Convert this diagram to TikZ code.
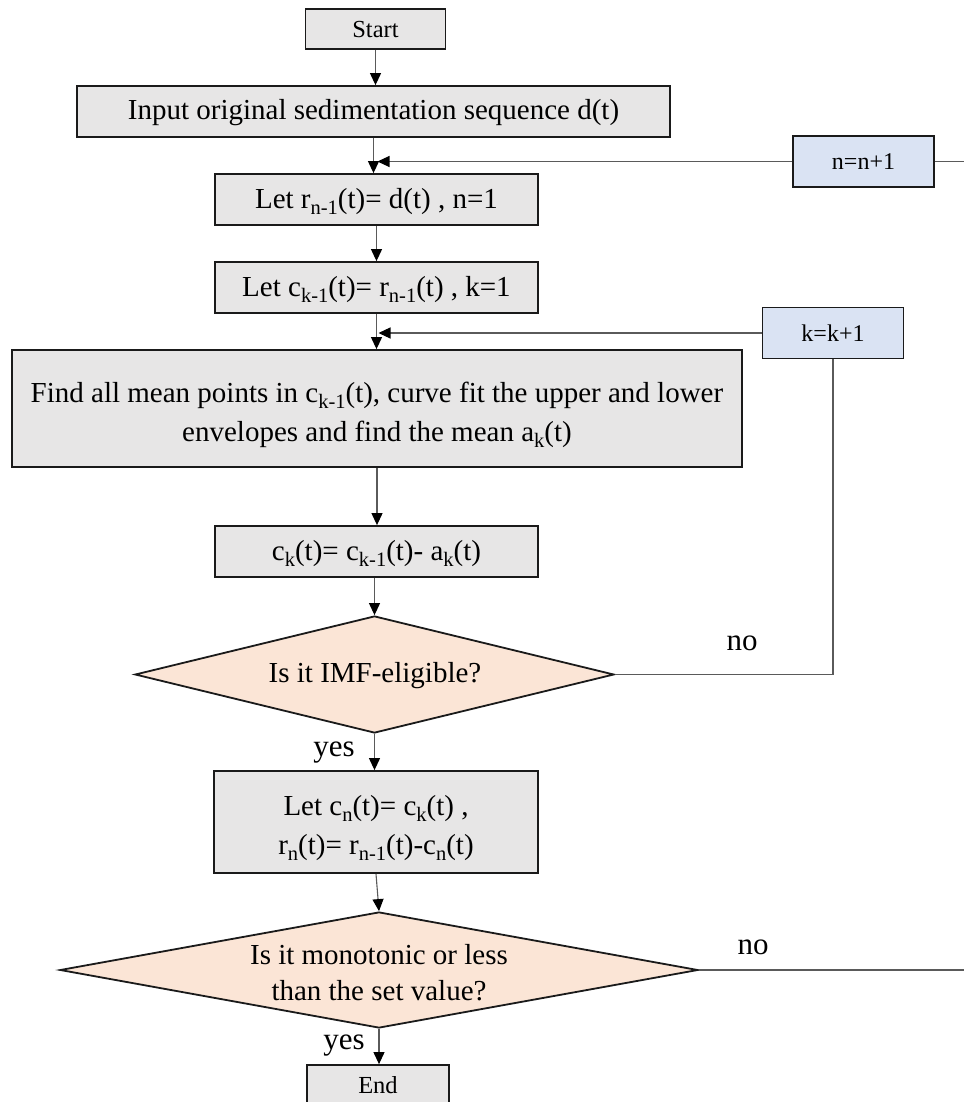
\documentclass[tikz,border=0pt]{standalone}
\usepackage{fontspec}
\setmainfont{Liberation Serif}
\usetikzlibrary{arrows.meta,shapes.geometric}
\definecolor{boxgray}{HTML}{E7E6E6}
\definecolor{boxblue}{HTML}{DAE3F3}
\definecolor{boxpeach}{HTML}{FBE5D6}
\definecolor{edge}{HTML}{1A1A1A}
\definecolor{wire}{HTML}{5A5A5A}
\newcommand{\mysub}[1]{\raisebox{-6pt}{\fontsize{20.5}{20.5}\selectfont #1}}
\begin{document}
\begin{tikzpicture}[x=1pt,y=-1pt,
  proc/.style={draw=edge, line width=1.8pt, fill=boxgray, inner sep=0pt,
    minimum width=323pt, minimum height=51pt, align=center,
    font=\fontsize{29}{39}\selectfont, text height=17pt, text depth=0pt},
  proctwo/.style={proc, text height=65pt, text depth=0pt},
  term/.style={draw=edge, line width=1.8pt, fill=boxgray, inner sep=0pt,
    minimum width=140pt, minimum height=40pt, text height=17pt, text depth=0pt,
    font=\fontsize{24.5}{28}\selectfont},
  incr/.style={draw=edge, line width=1.8pt, fill=boxblue, inner sep=0pt,
    minimum width=141pt, minimum height=51pt,
    font=\fontsize{24}{28}\selectfont},
  dec/.style={diamond, draw=edge, line width=1.8pt, fill=boxpeach, inner sep=0pt},
  dectext/.style={align=center, font=\fontsize{29}{36}\selectfont},
  lbl/.style={font=\fontsize{31}{31}\selectfont},
  conn/.style={draw=wire, line width=1.1pt},
  arr/.style={conn, -{Triangle[length=12pt,width=11pt,color=black]}}
]
\useasboundingbox (0,0) rectangle (964,1102);

\node[term] (start) at (375.5,29) {Start};
\node[proc, minimum width=593pt] (input) at (373.5,111.5) {Input original sedimentation sequence d(t)};
\node[incr] (nbox) at (863.5,161.5) {n=n+1};
\node[proc] (letr) at (376.5,199.5) {Let r\mysub{n-1}(t)= d(t) , n=1};
\node[proc] (letc) at (376.5,287.5) {Let c\mysub{k-1}(t)= r\mysub{n-1}(t) , k=1};
\node[incr] (kbox) at (833,333) {k=k+1};
\node[proctwo, minimum width=730pt, minimum height=117pt] (find) at (377,408.5)
  {Find all mean points in c\mysub{k-1}(t), curve fit the upper and lower\\envelopes and find the mean a\mysub{k}(t)};
\node[proc] (ck) at (376.5,551.5) {c\mysub{k}(t)= c\mysub{k-1}(t)- a\mysub{k}(t)};
\node[dec, minimum width=479pt, minimum height=117pt] (d1) at (374.5,674.5) {};
\node[dectext] (d1t) at (375,676) {Is it IMF-eligible?};
\node[proctwo, minimum width=324pt, minimum height=102pt] (cn) at (376,822)
  {Let c\mysub{n}(t)= c\mysub{k}(t) ,\\r\mysub{n}(t)= r\mysub{n-1}(t)-c\mysub{n}(t)};
\node[dec, minimum width=638pt, minimum height=116pt] (d2) at (379,970) {};
\node[dectext] (d2t) at (379,973) {Is it monotonic or less\\than the set value?};
\node[term, minimum width=142pt] (end) at (378,1085) {End};

\node[lbl] (no1) at (742,643) {no};
\node[lbl] (yes1) at (334,753) {yes};
\node[lbl] (no2) at (753,947) {no};
\node[lbl] (yes2) at (344,1046) {yes};

\coordinate (jn) at (input.south |- nbox.west);
\coordinate (jk) at (letc.south |- kbox.west);
\coordinate (nr) at (964,161.5);
\coordinate (dr) at (964,970);

\draw[arr] (start.south) -- (start.south |- input.north);
\draw[arr] (input.south) -- (input.south |- letr.north);
\draw[arr, shorten >=4pt] (nbox.west) -- (jn);
\draw[conn] (nbox.east) -- (nr);
\draw[arr] (letr.south) -- (letc.north);
\draw[arr] (letc.south) -- (letc.south |- find.north);
\draw[arr, shorten >=2pt] (kbox.west) -- (jk);
\draw[arr] (find.south) -- (find.south |- ck.north);
\draw[arr] (d1.north |- ck.south) -- (d1.north);
\draw[conn] (d1.east) -| (kbox.south);
\draw[arr] (d1.south) -- (d1.south |- cn.north);
\draw[arr] (cn.south) -- (d2.north);
\draw[conn] (d2.east) -- (dr);
\draw[arr] (d2.south) -- (d2.south |- end.north);
\end{tikzpicture}
\end{document}
